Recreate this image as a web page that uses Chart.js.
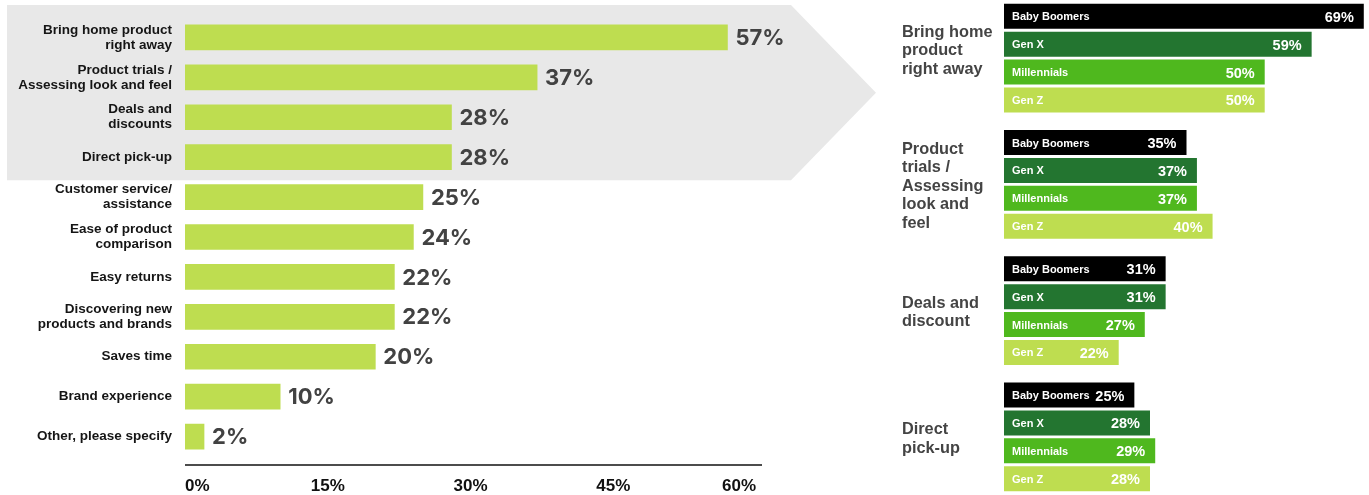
<!DOCTYPE html>
<html><head><meta charset="utf-8">
<script src="https://cdn.jsdelivr.net/npm/chart.js@4.4.1/dist/chart.umd.min.js"></script>
<style>
html,body{margin:0;padding:0;background:#fff;overflow:hidden;}
#wrap{position:relative;width:1369px;height:495px;overflow:hidden;}
#left{position:absolute;left:0;top:0;width:880px;height:495px;}
#right{position:absolute;left:880px;top:-5px;width:489px;height:505px;}
</style></head><body>
<div id="wrap">
<div id="left"><canvas id="c1"></canvas></div>
<div id="right"><canvas id="c2"></canvas></div>
</div>
<script>
const reasons = [
  ["Bring home product","right away"],
  ["Product trials /","Assessing look and feel"],
  ["Deals and","discounts"],
  ["Direct pick-up"],
  ["Customer service/","assistance"],
  ["Ease of product","comparison"],
  ["Easy returns"],
  ["Discovering new","products and brands"],
  ["Saves time"],
  ["Brand experience"],
  ["Other, please specify"]
];
const reasonValues = [57,37,28,28,25,24,22,22,20,10,2];
const axisTicks = [0,15,30,45,60];

const groups = [
  ["Bring home","product","right away",""],
  ["Product","trials /","Assessing","look and","feel"],
  ["Deals and","discount"],
  ["Direct","pick-up"]
];
const generations = ["Baby Boomers","Gen X","Millennials","Gen Z"];
const babyBoomers = [69,35,31,25];
const genX = [59,37,31,28];
const millennials = [50,37,27,29];
const genZ = [50,40,22,28];

const genColors = ["#000000","#237530","#4fb81e","#bedd50"];
const SANS = "'Liberation Sans', Arial, sans-serif";

const leftPlugin = {
  id:'leftDecor',
  beforeDraw(chart){
    const ctx = chart.ctx, y = chart.scales.y;
    const p0 = y.getPixelForValue(0), pitch = y.getPixelForValue(1) - p0;
    const top = p0 - 0.815*pitch;
    const bottom = y.getPixelForValue(3) + 0.58*pitch;
    const mid = (top+bottom)/2;
    ctx.save();
    ctx.fillStyle = '#e8e8e8';
    ctx.beginPath();
    ctx.moveTo(7, top);
    ctx.lineTo(791, top);
    ctx.lineTo(876, mid);
    ctx.lineTo(791, bottom);
    ctx.lineTo(7, bottom);
    ctx.closePath();
    ctx.fill();
    ctx.restore();
  },
  afterDatasetsDraw(chart){
    const ctx = chart.ctx;
    const meta = chart.getDatasetMeta(0);
    ctx.save();
    ctx.font = "700 22px Inter, sans-serif";
    ctx.fillStyle = '#424242';
    ctx.textAlign = 'left';
    ctx.textBaseline = 'middle';
    meta.data.forEach((bar,i)=>{
      ctx.fillText(reasonValues[i] + '%', bar.x + 8, bar.y + 1);
    });
    const a = chart.chartArea;
    ctx.strokeStyle = '#111';
    ctx.lineWidth = 1.5;
    ctx.beginPath();
    ctx.moveTo(a.left, a.bottom + 8.5);
    ctx.lineTo(a.right + 6, a.bottom + 8.5);
    ctx.stroke();
    ctx.restore();
  }
};

new Chart(document.getElementById('c1'), {
  type:'bar',
  data:{
    labels: reasons,
    datasets:[{data: reasonValues, backgroundColor:'#bedd50', barThickness:25}]
  },
  options:{
    indexAxis:'y',
    responsive:true,
    maintainAspectRatio:false,
    animation:false,
    layout:{padding:{top:17.5,right:124,left:0,bottom:0}},
    plugins:{legend:{display:false},tooltip:{enabled:false}},
    scales:{
      y:{
        grid:{display:false,drawTicks:false},
        border:{display:false},
        ticks:{font:{family:SANS,weight:'bold',size:13.5,lineHeight:1.11},color:'#151515',padding:13},
        afterFit(s){ s.width = 185; s.paddingTop = 0; s.paddingBottom = 0; }
      },
      x:{
        min:0,max:60,
        grid:{display:false,drawTicks:false},
        border:{display:false},
        ticks:{align:'inner',padding:20,font:{family:SANS,weight:'bold',size:17},color:'#111',callback:v=>v+'%'},
        afterBuildTicks(s){ s.ticks = axisTicks.map(v=>({value:v})); },
        afterFit(s){ s.height = 38.5; s.paddingLeft = 0; s.paddingRight = 0; }
      }
    }
  },
  plugins:[leftPlugin]
});

const rightPlugin = {
  id:'rightLabels',
  afterDatasetsDraw(chart){
    const ctx = chart.ctx;
    ctx.save();
    ctx.fillStyle = '#ffffff';
    ctx.textBaseline = 'middle';
    chart.data.datasets.forEach((ds,di)=>{
      const meta = chart.getDatasetMeta(di);
      meta.data.forEach((bar,i)=>{
        ctx.font = "700 11px " + SANS;
        ctx.textAlign = 'left';
        ctx.fillText(ds.label, bar.base + 8, bar.y + 1);
        ctx.font = "700 14.5px " + SANS;
        ctx.textAlign = 'right';
        ctx.fillText(ds.data[i] + '%', bar.x - 10, bar.y + 1.5);
      });
    });
    ctx.restore();
  }
};

const genData = [babyBoomers, genX, millennials, genZ];
new Chart(document.getElementById('c2'), {
  type:'bar',
  data:{
    labels: groups,
    datasets: generations.map((g,i)=>({
      label:g, data:genData[i], backgroundColor:genColors[i],
      categoryPercentage:0.883, barPercentage:0.9
    }))
  },
  options:{
    indexAxis:'y',
    responsive:true,
    maintainAspectRatio:false,
    animation:false,
    layout:{padding:{top:0,right:0,left:22,bottom:0}},
    plugins:{legend:{display:false},tooltip:{enabled:false}},
    scales:{
      x:{display:false,min:0,max:70},
      y:{
        grid:{display:false,drawTicks:false},
        border:{display:false},
        ticks:{crossAlign:'far',padding:0,labelOffset:2,font:{family:SANS,weight:'bold',size:16.3,lineHeight:1.14},color:'#444444'},
        afterFit(s){ s.width = 102; s.paddingTop = 0; s.paddingBottom = 0; }
      }
    }
  },
  plugins:[rightPlugin]
});
</script>
</body></html>
